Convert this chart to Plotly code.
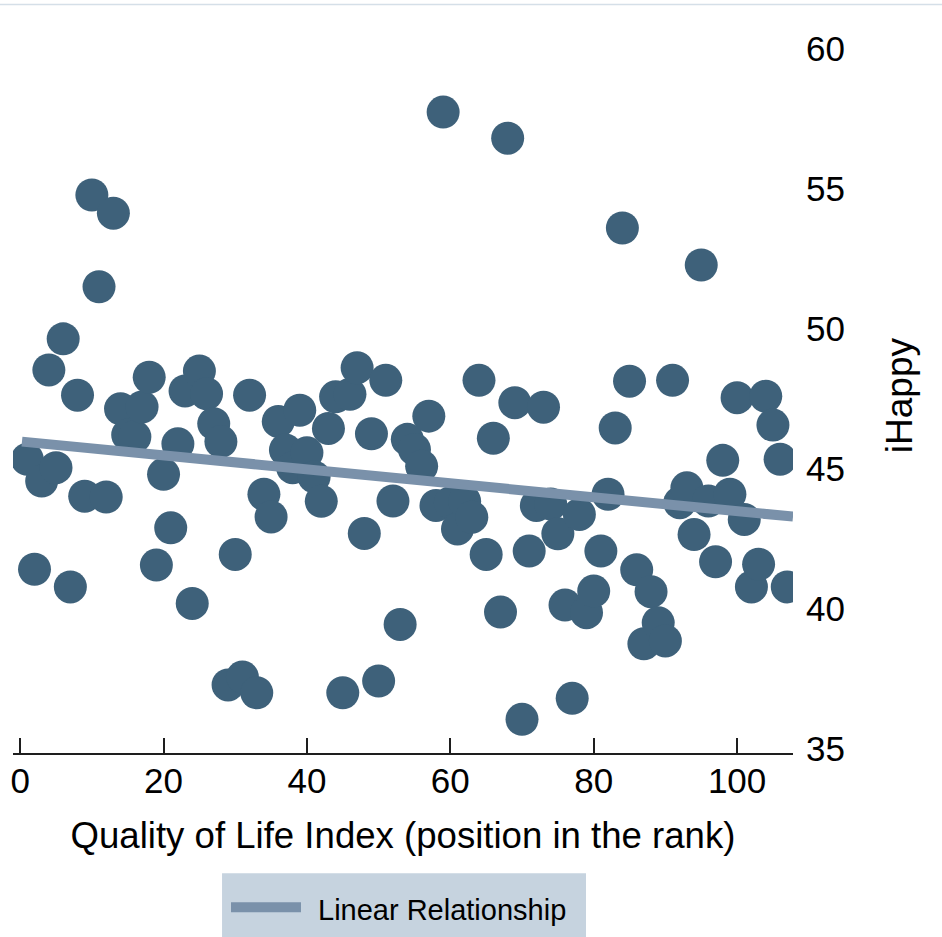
import plotly.graph_objects as go

# Quality of Life Index rank positions
rank = list(range(1, 108))
# iHappy values
ihappy = [
    45.35, 41.42, 44.57, 48.54, 45.05, 49.65, 40.79, 47.64, 44.03, 54.79,
    51.51, 44.00, 54.14, 47.15, 46.22, 46.15, 47.22, 48.28, 41.57, 44.81,
    42.90, 45.90, 47.79, 40.20, 48.50, 47.69, 46.62, 45.98, 37.29, 41.95,
    37.57, 47.64, 37.01, 44.10, 43.29, 46.70, 45.68, 45.05, 47.10, 45.58,
    44.72, 43.85, 46.45, 47.58, 37.01, 47.67, 48.62, 42.70, 46.26, 37.43,
    48.17, 43.86, 39.45, 46.06, 45.70, 45.10, 46.89, 43.70, 57.75, 43.80,
    42.86, 43.85, 43.28, 48.17, 41.95, 46.10, 39.89, 56.82, 47.37, 36.06,
    42.07, 43.70, 47.21, 43.75, 42.69, 40.14, 36.81, 43.38, 39.87, 40.64,
    42.07, 44.10, 46.47, 53.61, 48.14, 41.40, 38.76, 40.62, 39.51, 38.86,
    48.17, 43.80, 44.33, 42.66, 52.29, 43.86, 41.69, 45.31, 44.10, 47.55,
    43.20, 40.79, 41.60, 47.60, 46.57, 45.35, 40.79,
]
# Linear relationship line end points
trend_x = [0.25, 107.8]
trend_y = [45.98, 43.30]

x_ticks = [0, 20, 40, 60, 80, 100]
y_ticks = [35, 40, 45, 50, 55, 60]

FONT = "Liberation Sans, Arial, sans-serif"
MARKER = "rgb(62,97,122)"
LINE = "rgb(122,145,170)"
LEG_BG = "rgb(198,211,223)"

fig = go.Figure()
fig.add_trace(go.Scatter(
    x=rank, y=ihappy, mode="markers", name="iHappy",
    marker=dict(size=33, color=MARKER, line=dict(width=0)),
    showlegend=False,
))
fig.add_trace(go.Scatter(
    x=trend_x, y=trend_y, mode="lines", name="Linear Relationship",
    line=dict(color=LINE, width=10),
    showlegend=False,
))

# legend drawn as a box with a sample line and a label
fig.add_shape(type="rect", xref="paper", yref="paper",
              x0=0.268, x1=0.7346, y0=-0.28, y1=-0.1642,
              fillcolor=LEG_BG, line=dict(width=0), layer="below")
fig.add_shape(type="line", xref="paper", yref="paper",
              x0=0.2795, x1=0.3692, y0=-0.2106, y1=-0.2106,
              line=dict(color=LINE, width=10))
fig.add_annotation(xref="paper", yref="paper", x=0.389, y=-0.2147,
                   xanchor="left", yanchor="middle", showarrow=False,
                   text="Linear Relationship",
                   font=dict(family=FONT, size=29, color="black"))
# y axis title
fig.add_annotation(xref="paper", yref="paper", x=1.1359, y=0.4882,
                   xanchor="center", yanchor="middle", showarrow=False,
                   text="iHappy", textangle=-90,
                   font=dict(family=FONT, size=37, color="black"))
# thin frame line at the top of the page
fig.add_shape(type="line", xref="paper", yref="paper",
              x0=-0.02, x1=1.2, y0=1.0212, y1=1.0212,
              line=dict(color="rgb(213,223,232)", width=1.5))

fig.update_layout(
    width=942, height=937,
    margin=dict(l=13, r=149, t=20, b=184),
    paper_bgcolor="white", plot_bgcolor="white",
    font=dict(family=FONT, color="black"),
    xaxis=dict(
        range=[-1, 107.8], tickvals=x_ticks, ticktext=[str(v) for v in x_ticks],
        showgrid=False, zeroline=False,
        showline=True, linecolor="rgb(30,30,30)", linewidth=1.5,
        ticks="inside", ticklen=15, tickwidth=1.5, tickcolor="rgb(30,30,30)",
        tickfont=dict(size=35, family=FONT, color="black"),
        ticklabelstandoff=-4,
        title=dict(text="Quality of Life Index (position in the rank)",
                   font=dict(size=36.6, family=FONT, color="black"), standoff=24),
        automargin=False,
    ),
    yaxis=dict(
        side="right", range=[34.857, 61.04], tickvals=y_ticks,
        ticktext=[str(v) for v in y_ticks],
        showgrid=False, zeroline=False, showline=False, ticks="",
        ticklabelstandoff=12,
        tickfont=dict(size=35, family=FONT, color="black"),
        automargin=False,
    ),
)

fig.write_html("out.html", config={"displayModeBar": False},
               post_script="document.body.style.margin='0';")
